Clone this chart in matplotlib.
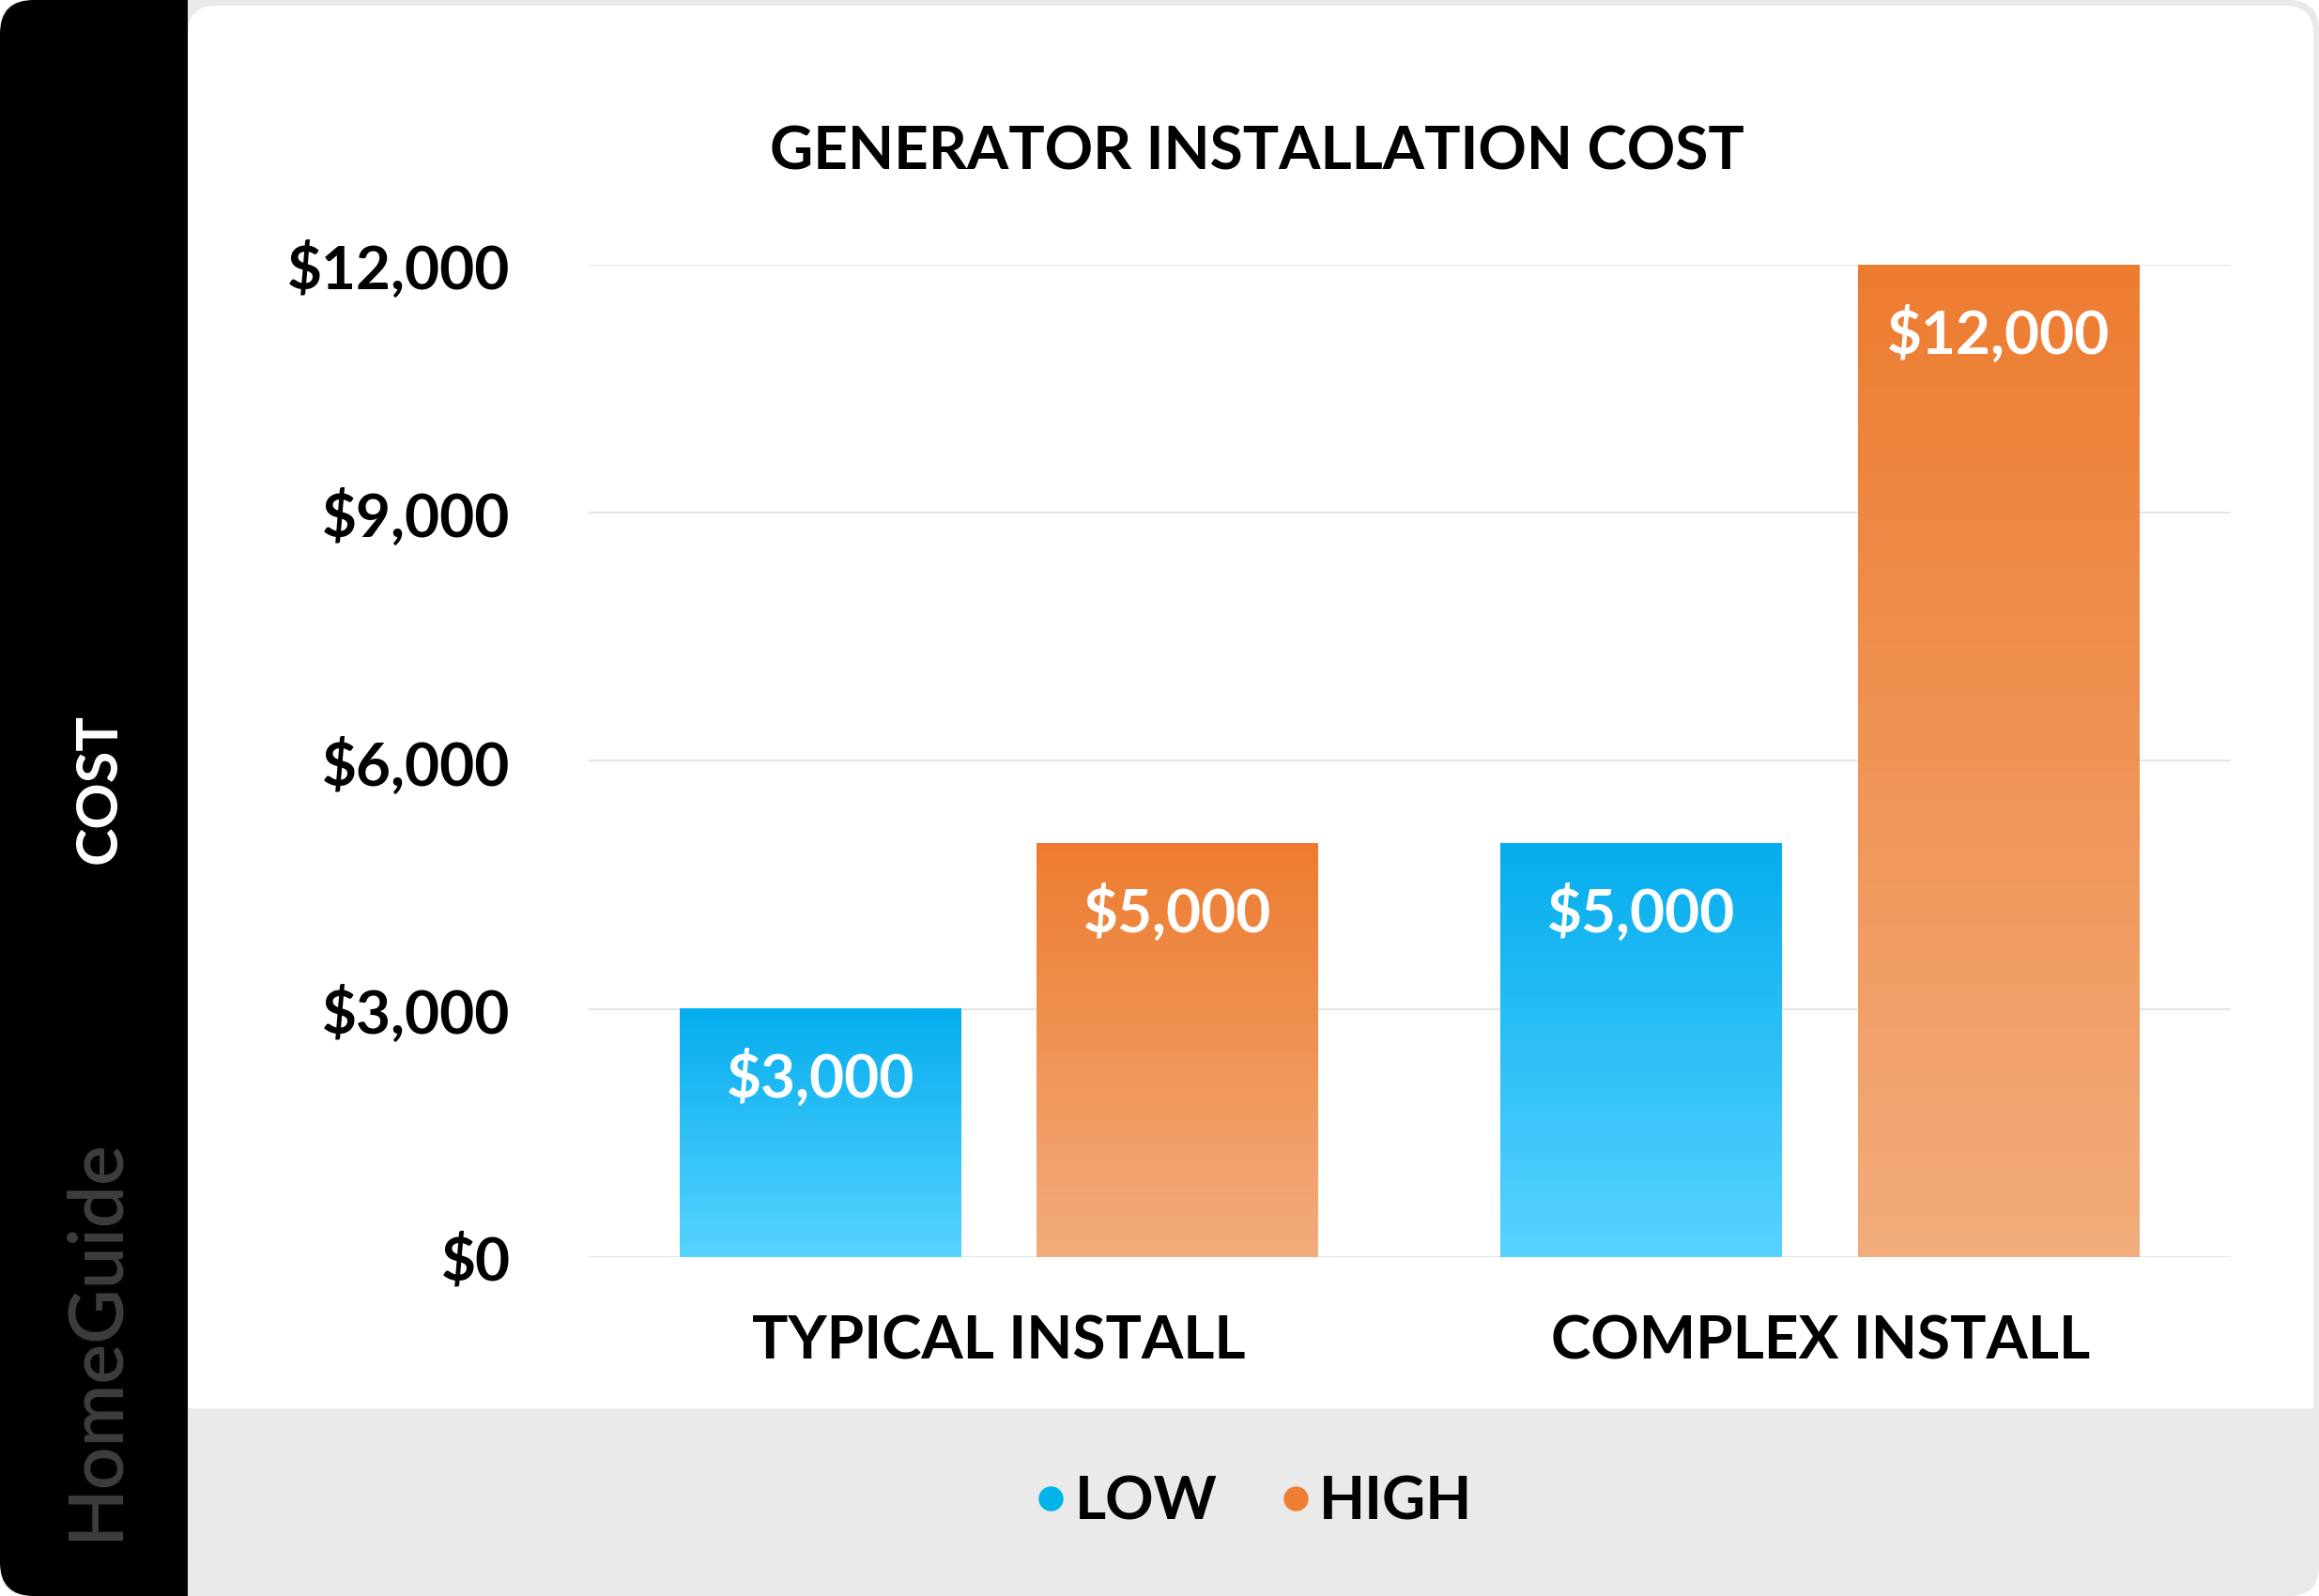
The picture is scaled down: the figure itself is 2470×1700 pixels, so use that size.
import numpy as np
import matplotlib
matplotlib.use('Agg')
import matplotlib.pyplot as plt
from matplotlib.patches import FancyBboxPatch, Rectangle
from matplotlib.lines import Line2D
from matplotlib.colors import LinearSegmentedColormap

# data
categories = ['TYPICAL INSTALL', 'COMPLEX INSTALL']
low = [3000, 5000]
high = [5000, 12000]
series_names = ['LOW', 'HIGH']
yticks = [0, 3000, 6000, 9000, 12000]
title = 'GENERATOR INSTALLATION COST'

plt.rcParams['font.family'] = ['Lato', 'DejaVu Sans']
plt.rcParams['font.weight'] = 'bold'

fig = plt.figure(figsize=(24.7, 17), dpi=100)
fig.patch.set_facecolor('white')

# frame / background decoration (pixel coords)
bg = fig.add_axes([0, 0, 1, 1], zorder=-1)
bg.set_xlim(0, 2470)
bg.set_ylim(1700, 0)
bg.axis('off')
bg.add_patch(FancyBboxPatch((0, 0), 2470, 1700, boxstyle='round,pad=0,rounding_size=32',
                            fc='#E9E9E9', ec='none'))
bg.add_patch(FancyBboxPatch((0, 0), 400, 1700, boxstyle='round,pad=0,rounding_size=36',
                            fc='black', ec='none'))
bg.add_patch(Rectangle((200, 0), 220, 1700, fc='#E9E9E9', ec='none'))
bg.add_patch(FancyBboxPatch((200, 6), 2264, 1600, boxstyle='round,pad=0,rounding_size=30',
                            fc='white', ec='none'))
bg.add_patch(Rectangle((200, 1500), 2270, 160, fc='#EAEAEA', ec='none'))
bg.text(102, 1427, 'HomeGuide', rotation=90, ha='center', va='center',
        color='#3D3D3D', fontsize=58, fontweight='semibold')

# main axes
ax = fig.add_axes([0.2538, 0.2124, 0.7081, 0.6218])
ax.set_facecolor('none')
for s in ax.spines.values():
    s.set_visible(False)

x = np.arange(len(categories))
w = 0.343
off = 0.2175
bars_low = ax.bar(x - off, low, w, color='none', label=series_names[0])
bars_high = ax.bar(x + off, high, w, color='none', label=series_names[1])

cm_low = LinearSegmentedColormap.from_list('lo', ['#58D3FF', '#05ADEE'])
cm_high = LinearSegmentedColormap.from_list('hi', ['#F3AC7C', '#ED7C30'])
grad = np.linspace(0, 1, 256).reshape(-1, 1)
for bars, cm in [(bars_low, cm_low), (bars_high, cm_high)]:
    for b in bars:
        x0, h = b.get_x(), b.get_height()
        ax.imshow(grad, cmap=cm, aspect='auto', origin='lower',
                  extent=[x0, x0 + b.get_width(), 0, h], zorder=2)
        ax.annotate('${:,.0f}'.format(h), (x0 + b.get_width() / 2, h),
                    xytext=(0, -53), textcoords='offset points',
                    ha='center', va='center', color='white', fontsize=46,
                    fontweight='bold', zorder=3)

ax.set_xlim(-0.5, 1.5)
ax.set_ylim(0, 12000)
ax.set_yticks(yticks)
ax.set_yticklabels(['${:,.0f}'.format(v) for v in yticks])
ax.set_xticks(x)
ax.set_xticklabels(categories)
ax.tick_params(axis='y', length=0, pad=60, labelsize=46)
ax.tick_params(axis='x', length=0, pad=44, labelsize=46)
ax.grid(axis='y', color='#E6E6E6', lw=1.5)
ax.set_axisbelow(True)

ax.set_ylabel('COST', color='white', fontsize=44, fontweight='bold')
ax.yaxis.set_label_coords(-0.282, 0.472)

fig.text(0.542, 1 - 162 / 1700, title, ha='center', va='center',
         fontsize=46, fontweight='bold')

handles = [Line2D([], [], marker='o', ls='', color='#00B3E9', markersize=18),
           Line2D([], [], marker='o', ls='', color='#ED7D31', markersize=18)]
fig.legend(handles, series_names, loc='center', bbox_to_anchor=(0.5415, 1 - 1600 / 1700),
           ncol=2, frameon=False, handlelength=0.4, handletextpad=0.2,
           columnspacing=1.1, prop={'size': 46, 'weight': 'bold'})

fig.savefig('out.png', dpi=100)
